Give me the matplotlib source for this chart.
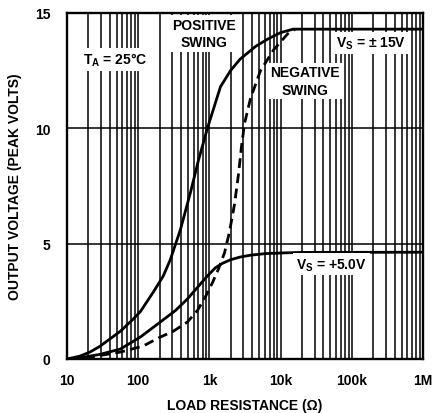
import matplotlib
matplotlib.use("Agg")
import matplotlib.pyplot as plt
from matplotlib.ticker import FixedLocator, LogLocator, NullFormatter

plt.rcParams['font.family'] = ['Liberation Sans', 'DejaVu Sans']

# Load resistance (ohm) and peak output voltage
pos15_r = [10, 15, 21, 29, 56, 85, 107, 163, 225, 282, 391, 540, 700, 937,
           1430, 1977, 2700, 4450, 6600, 10000, 15000, 1e6]
pos15_v = [0.0, 0.12, 0.3, 0.55, 1.2, 1.73, 2.05, 2.9, 3.6, 4.3, 5.6, 7.2, 8.6, 10.0,
           11.8, 12.5, 13.0, 13.55, 13.87, 14.15, 14.3, 14.3]

neg_r = [18, 23, 56, 117, 204, 310, 490, 678, 879, 1100, 1340, 1630, 1910, 2250,
         2560, 2820, 3110, 3780, 5220, 7960, 12600, 16000]
neg_v = [0.05, 0.1, 0.3, 0.56, 0.95, 1.2, 1.6, 2.1, 2.7, 3.3, 3.9, 4.6, 5.5, 6.7,
         8.0, 9.2, 10.2, 11.3, 12.5, 13.4, 14.1, 14.3]

pos5_r = [10, 15, 29, 56, 107, 225, 333, 490, 678, 937, 1210, 1530, 1970, 2700,
          3780, 6160, 11000, 19100, 1e6]
pos5_v = [0.0, 0.05, 0.2, 0.43, 0.95, 1.7, 2.1, 2.6, 3.1, 3.6, 3.95, 4.15, 4.3, 4.42,
          4.5, 4.57, 4.6, 4.62, 4.63]

x_ticks = [10, 100, 1e3, 1e4, 1e5, 1e6]
x_labels = ["10", "100", "1k", "10k", "100k", "1M"]
y_ticks = [0, 5, 10, 15]
y_labels = ["0", "5", "10", "15"]

fig = plt.figure(figsize=(4.36, 4.14), dpi=100)
ax = fig.add_axes([67/436, 1 - 360/414, (423 - 67)/436, (360 - 14)/414])
ax.set_xscale('log')
ax.set_xlim(10, 1e6)
ax.set_ylim(0, 15)

ax.xaxis.set_major_locator(FixedLocator(x_ticks))
ax.xaxis.set_minor_locator(LogLocator(base=10, subs=range(2, 10), numticks=20))
ax.xaxis.set_minor_formatter(NullFormatter())
ax.set_xticks(x_ticks)
ax.set_xticklabels(x_labels)
ax.set_yticks(y_ticks)
ax.set_yticklabels(y_labels)
ax.grid(True, which='both', axis='x', color='black', lw=1.1)
ax.grid(True, which='major', axis='y', color='black', lw=1.1)
ax.tick_params(which='both', length=0, labelsize=10)
ax.tick_params(axis='x', pad=10)
ax.tick_params(axis='y', pad=12)
for lab in ax.get_xticklabels() + ax.get_yticklabels():
    lab.set_fontweight('bold')
for s in ax.spines.values():
    s.set_linewidth(1.7)

ax.plot(pos15_r, pos15_v, color='black', lw=2.0, solid_capstyle='round',
        solid_joinstyle='round', zorder=4)
ax.plot(pos5_r, pos5_v, color='black', lw=2.0, solid_capstyle='round',
        solid_joinstyle='round', zorder=4)
ax.plot(neg_r, neg_v, color='black', lw=2.0, dashes=(3.5, 2.0), zorder=4)

box = dict(facecolor='white', edgecolor='none', pad=2.0)
tk = dict(fontsize=10, fontweight='bold', ha='center', va='center', zorder=5, bbox=box)
ax.text(47, 13.0, r"T$_\mathregular{A}$ = 25°C", **tk)
ax.text(850, 14.1, "POSITIVE\nSWING", linespacing=1.3, **tk)
ax.text(22000, 12.05, "NEGATIVE\nSWING", linespacing=1.3, **tk)
ax.text(186000, 13.7, r"V$_\mathregular{S}$ = ± 15V", **tk)
ax.text(52000, 4.1, r"V$_\mathregular{S}$ = +5.0V", **tk)

ax.set_xlabel("LOAD RESISTANCE (Ω)", fontsize=10, fontweight='bold', labelpad=8)
ax.set_ylabel("OUTPUT VOLTAGE (PEAK VOLTS)", fontsize=10, fontweight='bold', labelpad=9)

fig.savefig("out.png", dpi=100)
